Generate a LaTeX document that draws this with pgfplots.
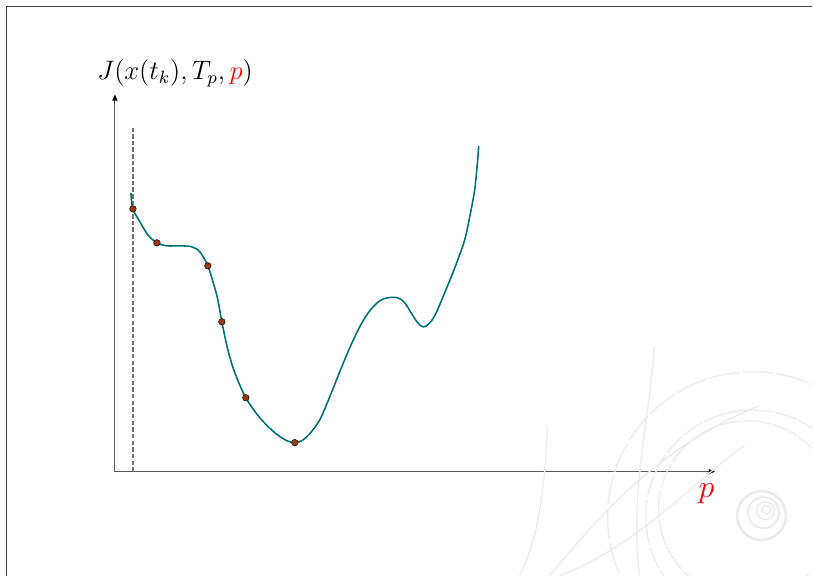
\documentclass[border=0pt]{standalone}
\usepackage{pgfplots}
\pgfplotsset{compat=1.18}
\usetikzlibrary{arrows.meta}

\definecolor{curveteal}{RGB}{0,112,112}
\definecolor{dotfill}{RGB}{165,55,5}
\definecolor{swirl}{RGB}{236,236,236}

\begin{document}
\begin{tikzpicture}
\begin{axis}[
  x=0.45pt, y=0.45pt,
  xmin=115, xmax=716,
  ymin=104, ymax=482,
  axis lines=left,
  axis line style={black!65, line width=0.45pt, -{Latex[length=3pt,width=2.6pt,black]}},
  ticks=none,
  clip=false,
]
% page extent and slide frame
\path (axis cs:0,0) rectangle (axis cs:813,576);
\draw[black!75, line width=0.5pt] (axis cs:6.5,0) -- (axis cs:6.5,569.5) -- (axis cs:813,569.5);

% faint background swirl
\begin{scope}
\clip (axis cs:7,0) rectangle (axis cs:813,569);
\draw[swirl, line width=0.6pt, dash pattern=on 14pt off 1.5pt] (axis cs:753,59) circle[radius=65.25pt];
\draw[swirl, line width=0.6pt, dash pattern=on 10pt off 1pt] (axis cs:753,59) circle[radius=48pt];
\draw[swirl, line width=0.6pt, dash pattern=on 12pt off 1pt] (axis cs:748,66) circle[radius=40pt];
\draw[swirl, line width=1.2pt] (axis cs:762,60) circle[radius=11pt];
\draw[swirl, line width=0.8pt] (axis cs:764,63) circle[radius=7pt];
\draw[swirl, line width=0.6pt] (axis cs:766,65) circle[radius=4pt];
\draw[swirl, line width=0.6pt] (axis cs:767,66) circle[radius=2pt];
\draw[swirl, line width=0.6pt] (axis cs:550,0) .. controls (axis cs:600,60) and (axis cs:660,130) .. (axis cs:760,170);
\draw[swirl, line width=0.6pt] (axis cs:640,0) .. controls (axis cs:630,80) and (axis cs:650,160) .. (axis cs:655,230);
\draw[swirl, line width=0.6pt] (axis cs:520,0) .. controls (axis cs:540,40) and (axis cs:545,90) .. (axis cs:548,150);
\draw[swirl, line width=0.6pt] (axis cs:560,0) .. controls (axis cs:640,30) and (axis cs:700,100) .. (axis cs:745,130);
\end{scope}

% admissible lower bound of p
\draw[black!55, line width=0.55pt, dash pattern=on 2pt off 1pt] (axis cs:133,104) -- (axis cs:133,448);

% cost as a function of p
\addplot[curveteal, line width=0.7pt, smooth, tension=0.55] coordinates {
  (131,383) (133,367) (140,354) (148,341) (157,333) (167,330) (180,330)
  (192,329) (200,324) (208,310) (214,291) (218,276) (222,254) (228,226)
  (235,203) (246,178) (260,158) (275,143) (287,135) (295,133) (302,135)
  (310,142) (320,156) (330,179) (340,204) (350,228) (360,249) (370,265)
  (380,275) (388,278) (398,278) (405,273) (412,262) (418,253) (423,249)
  (428,251) (435,260) (445,283) (457,313) (465,336) (470,359) (475,386)
  (478,416) (479,430)
};

% iterates of the optimiser
\addplot[only marks, mark=*, mark size=1.45pt,
  mark options={fill=dotfill, draw=black!85, line width=0.35pt}] coordinates {
  (133,367) (157,333) (208,310) (222,254) (246,178) (295,133)
};

\node[anchor=base west, inner sep=0pt, font=\fontsize{11.8}{14}\selectfont]
  at (axis cs:97,496) {$J(x(t_k),T_p,\textcolor{red}{p})$};
\node[anchor=base, inner sep=0pt, font=\fontsize{15.5}{18}\selectfont]
  at (axis cs:707,78) {$\textcolor{red}{p}$};
\end{axis}
\end{tikzpicture}
\end{document}
